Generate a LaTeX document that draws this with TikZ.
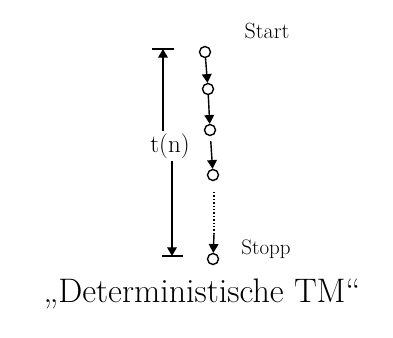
\documentclass[tikz,border=0pt]{standalone}
\usepackage{fontspec}
\usetikzlibrary{arrows}
\tikzset{every path/.style={black,line width=1.4pt}, >=triangle 60,
  state/.style={circle, draw, line width=1.4pt, minimum width=10pt, minimum height=11pt, inner sep=0pt},
  lbl/.style={inner sep=1pt}}

\begin{document}
\begin{tikzpicture}[x=1pt,y=-1pt]
   \useasboundingbox (0,0) rectangle (393,337);
   % the run of configurations
   \node[state] (s1) at (205,52)  {};
   \node[state] (s2) at (208,89)  {};
   \node[state] (s3) at (210,130) {};
   \node[state] (s4) at (213,175) {};
   \node[state] (s5) at (213,259) {};
   \coordinate (d1) at (214,192);
   \coordinate (d2) at (214,234);
   \draw[->] (s1) -- (s2);
   \draw[->] (s2) -- (s3);
   \draw[->,shorten <=5pt] (s3) -- (s4);
   \draw[dotted] (d1) -- (d2);
   \draw[->] (d2) -- (s5);
   \node[lbl,font=\fontsize{22}{26}\selectfont] (start) at (267,31)  {Start};
   \node[lbl,font=\fontsize{21}{25}\selectfont] (stopp) at (266,249) {Stopp};
   % running time t(n)
   \node[lbl,font=\fontsize{25}{30}\selectfont] (tn) at (170,146) {t(n)};
   \coordinate (top)  at (163,49);
   \coordinate (bot)  at (172,256);
   \draw (152,49) -- (174,49);
   \draw (162,256) -- (183,256);
   \draw[->] (tn.north -| top) ++(0,-1) -- (top);
   \draw[->] (tn.south -| bot) ++(0,1) -- (bot);
   % caption
   \node[lbl,font=\fontsize{34}{40}\selectfont] (title) at (202,294) {„Deterministische TM“};
\end{tikzpicture}
\end{document}
